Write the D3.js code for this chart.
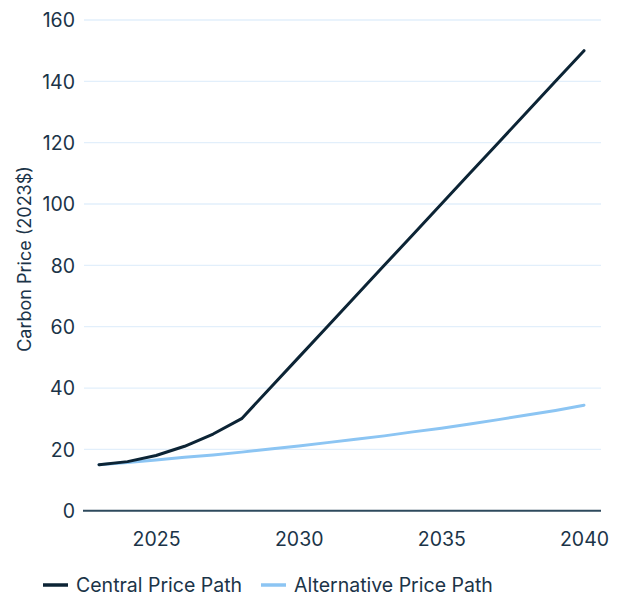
<!DOCTYPE html>
<html>
<head>
<meta charset="utf-8">
<script src="https://cdn.jsdelivr.net/npm/d3@7"></script>
<style>
  html, body { margin: 0; padding: 0; background: #fff; }
  svg text { font-family: Inter, "Noto Sans", sans-serif; fill: #1b3448; }
</style>
</head>
<body>
<svg id="chart" width="619" height="596"></svg>
<script>
const years = [2023, 2024, 2025, 2026, 2027, 2028, 2029, 2030, 2031, 2032, 2033, 2034, 2035, 2036, 2037, 2038, 2039, 2040];
const centralValues = [15, 16, 18, 21, 25, 30, 40, 50, 60, 70, 80, 90, 100, 110, 120, 130, 140, 150];
const alternativeValues = [15, 15.75, 16.5, 17.4, 18.2, 19.1, 20.1, 21.1, 22.2, 23.3, 24.4, 25.7, 26.9, 28.3, 29.7, 31.2, 32.7, 34.4];
const xTickYears = [2025, 2030, 2035, 2040];
const yTickValues = [0, 20, 40, 60, 80, 100, 120, 140, 160];
const seriesNames = ["Central Price Path", "Alternative Price Path"];
const seriesColors = ["#0c2435", "#8cc5f3"];
const yAxisTitle = "Carbon Price (2023$)";

const svg = d3.select("#chart");
const x = d3.scaleLinear().domain([2023, 2040]).range([99, 584]);
const y = d3.scaleLinear().domain([0, 160]).range([510.7, 20]);
const gridLeft = 84, gridRight = 601;
const tickFont = 19.5;

// gridlines
svg.append("g").selectAll("line").data(yTickValues.filter(v => v > 0)).join("line")
  .attr("x1", gridLeft).attr("x2", gridRight)
  .attr("y1", d => y(d)).attr("y2", d => y(d))
  .attr("stroke", "#e2effb").attr("stroke-width", 1.3);

// y axis labels
const yAxis = d3.axisLeft(y).tickValues(yTickValues).tickSize(0).tickPadding(0);
const yg = svg.append("g").attr("transform", `translate(75,0)`).call(yAxis);
yg.select(".domain").remove();
yg.selectAll("text").attr("font-size", tickFont).attr("dy", "0.35em").style("font-family", "Inter, 'Noto Sans', sans-serif").attr("fill", "#1b3448");

// x axis
const xAxis = d3.axisBottom(x).tickValues(xTickYears).tickFormat(d3.format("d")).tickSize(0).tickPadding(0);
const xg = svg.append("g").attr("transform", `translate(0,${y(0)})`).call(xAxis);
xg.select(".domain").remove();
xg.selectAll("text").attr("font-size", tickFont).attr("y", 35).attr("dy", 0).style("font-family", "Inter, 'Noto Sans', sans-serif").attr("fill", "#1b3448");
svg.append("line").attr("x1", 83).attr("x2", 601).attr("y1", y(0)).attr("y2", y(0))
  .attr("stroke", "#2e4a5d").attr("stroke-width", 2);

// y title
svg.append("text").attr("transform", `translate(31,${259}) rotate(-90)`)
  .attr("text-anchor", "middle").attr("font-size", 18).text(yAxisTitle);

const line = d3.line().x((d, i) => x(years[i])).y(d => y(d));
[alternativeValues, centralValues].forEach((vals, k) => {
  const idx = k === 0 ? 1 : 0;
  svg.append("path").datum(vals).attr("d", line).attr("fill", "none")
    .attr("stroke", seriesColors[idx]).attr("stroke-width", 3)
    .attr("stroke-linejoin", "round").attr("stroke-linecap", "round");
});

// legend
const legendX = [43, 261];
seriesNames.forEach((name, i) => {
  const g = svg.append("g").attr("transform", `translate(${legendX[i]},585)`);
  g.append("line").attr("x1", 0).attr("x2", 25).attr("y1", 0).attr("y2", 0)
    .attr("stroke", seriesColors[i]).attr("stroke-width", 3.5);
  g.append("text").attr("x", 33).attr("y", 0).attr("dy", "0.35em").attr("font-size", tickFont).text(name);
});
</script>
</body>
</html>
